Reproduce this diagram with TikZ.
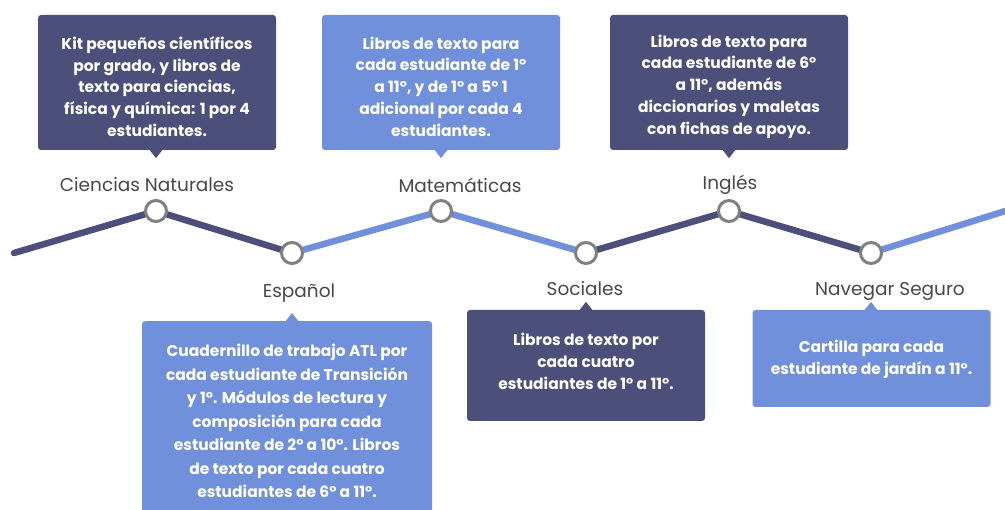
\documentclass[tikz,border=0pt]{standalone}
\usepackage{fontspec}
\setmainfont{Poppins}
\usetikzlibrary{positioning,backgrounds}

\definecolor{pizarra}{RGB}{75,79,122}
\definecolor{celeste}{RGB}{113,144,219}
\definecolor{anillo}{RGB}{128,128,128}
\definecolor{rotulo}{RGB}{72,72,72}

\tikzset{
  caja/.style={rounded corners=3pt, minimum width=238pt, inner sep=0pt},
  texto/.style={text=white, align=center, inner sep=0pt,
    font=\fontsize{15.5}{21.7}\selectfont\bfseries},
  tema/.style={text=rotulo, font=\fontsize{18.5}{20}\selectfont},
  hito/.style={circle, draw=anillo, line width=3pt, fill=white,
    minimum size=21pt, inner sep=0pt},
  tramo/.style={line width=6.5pt, line cap=round},
}

\begin{document}
\begin{tikzpicture}[x=1pt,y=-1pt]
	\useasboundingbox (0,0) rectangle (1005,510);
	\clip (0,0) rectangle (1005,510);

	% hitos de la linea
	\coordinate (inicio) at (14,253);
	\coordinate (fin) at (1015,208);
	\node[hito] (p1) at (156,211) {};
	\node[hito] (p2) at (292,253) {};
	\node[hito] (p3) at (441,211) {};
	\node[hito] (p4) at (586,253) {};
	\node[hito] (p5) at (729,211) {};
	\node[hito] (p6) at (871,253) {};

	\begin{scope}[on background layer]
		\draw[tramo,pizarra] (inicio) -- (p1.center) -- (p2.center);
		\draw[tramo,celeste] (p2.center) -- (p3.center) -- (p4.center);
		\draw[tramo,pizarra] (p4.center) -- (p5.center) -- (p6.center);
		\draw[tramo,celeste] (p6.center) -- (fin);
	\end{scope}

	% nombres de las areas
	\node[tema] (t1) at (147,185) {Ciencias Naturales};
	\node[tema] (t2) at (299,293) {Español};
	\node[tema] (t3) at (460,185) {Matemáticas};
	\node[tema] (t4) at (585,289) {Sociales};
	\node[tema] (t5) at (730,185) {Inglés};
	\node[tema] (t6) at (890,291) {Navegar Seguro};

	% cajas de arriba
	\node[caja,fill=pizarra,minimum height=135pt] (b1) at (157,82.5) {};
	\node[caja,fill=celeste,minimum height=135pt] (b3) at (441,82.5) {};
	\node[caja,fill=pizarra,minimum height=135pt] (b5) at (729,82.5) {};
	\node[texto] (x1) at ([yshift=-4pt]b1.center)
		{Kit pequeños científicos\\por grado, y libros de\\texto para ciencias,\\física y química: 1 por 4\\estudiantes.};
	\node[texto] (x3) at ([yshift=-4pt]b3.center)
		{Libros de texto  para\\cada estudiante de 1°\\a 11°, y de 1° a 5° 1\\adicional por cada 4\\estudiantes.};
	\node[texto] (x5) at ([yshift=-4pt]b5.center)
		{Libros de texto para\\cada estudiante de 6°\\a 11°, además\\diccionarios y maletas\\con fichas de apoyo.};
	\fill[pizarra] (b1.south -| p1) ++(-7,-1) -- ++(7,9) -- ++(7,-9) -- cycle;
	\fill[celeste] (b3.south -| p3) ++(-7,-1) -- ++(7,9) -- ++(7,-9) -- cycle;
	\fill[pizarra] (b5.south -| p5) ++(-7,-1) -- ++(7,9) -- ++(7,-9) -- cycle;

	% cajas de abajo
	\node[caja,fill=celeste,minimum width=290pt,minimum height=200pt,anchor=north] (b2) at (287,321) {};
	\node[caja,fill=pizarra,minimum height=111pt] (b4) at (586,365.5) {};
	\node[caja,fill=celeste,minimum height=97pt] (b6) at (871.5,358.5) {};
	\node[texto,anchor=north,font=\fontsize{15.5}{23.5}\selectfont\bfseries] (x2) at ([yshift=-23pt]b2.north)
		{Cuadernillo de trabajo ATL por\\cada estudiante de Transición\\y 1°. Módulos de lectura y\\composición para cada\\estudiante de 2° a 10°.  Libros\\de texto por cada cuatro\\estudiantes de 6° a 11°.};
	\node[texto] (x4) at ([yshift=4pt]b4.center)
		{Libros de texto por\\cada cuatro\\estudiantes de 1° a 11°.};
	\node[texto] (x6) at ([yshift=-1pt]b6.center)
		{Cartilla para cada\\estudiante de jardín a 11°.};
	\fill[celeste] (b2.north -| p2) ++(-7,1) -- ++(7,-9) -- ++(7,9) -- cycle;
	\fill[pizarra] (b4.north -| p4) ++(-7,1) -- ++(7,-9) -- ++(7,9) -- cycle;
	\fill[celeste] (b6.north -| p6) ++(-7,1) -- ++(7,-9) -- ++(7,9) -- cycle;
\end{tikzpicture}
\end{document}
